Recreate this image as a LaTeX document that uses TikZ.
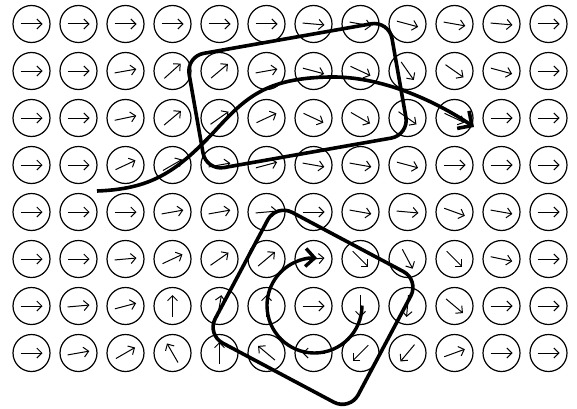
\documentclass[tikz,border=0pt]{standalone}
\usepackage{tikz}
\usetikzlibrary{arrows.meta}

\begin{document}
\begin{tikzpicture}[x=1pt, y=1pt,
    cell/.style={circle, draw, line width=1.2pt, minimum size=37pt, inner sep=0pt},
    spin/.style={line width=1pt, -{Straight Barb[length=5pt, width=10pt]}},
    frame/.style={draw, line width=3.6pt, rounded corners=18pt, inner sep=0pt},
    flow/.style={line width=3.6pt}]
  \useasboundingbox (0,0) rectangle (577,408);
  % Spin lattice, one row per line
  \foreach \r/\angles in {
      1/{0,0,0,0,0,0,-5,-10,-15,-10,-5,0},
      2/{0,0,10,42,40,10,-15,-25,-55,-35,-15,0},
      3/{0,0,12,40,35,25,-25,-30,-35,-25,0,0},
      4/{0,0,25,30,10,15,-10,-10,-15,0,0,0},
      5/{0,0,0,10,10,5,0,-10,-5,-20,-10,0},
      6/{0,0,5,25,35,40,5,-45,-62,-45,-12,0},
      7/{0,5,15,90,80,90,0,-90,-95,-40,0,0},
      8/{0,10,30,120,90,140,180,-135,-130,20,0,0}} {
    \foreach \a [count=\c] in \angles {
      \node[cell] (cell-\c-\r) at ({31.5+47*(\c-1)},{384-47*(\r-1)}) {};
      \draw[spin] (cell-\c-\r.center) ++(180+\a:11) -- ++(\a:22);
    }
  }
  % Frames
  \node[frame, minimum width=206pt, minimum height=116pt, rotate=10] (boxTop) at (297.5,312.3) {};
  \node[frame, minimum width=162pt, minimum height=148pt, rotate=-28] (boxLow) at (313,100.7) {};
  % Flow line
  \coordinate (flowstart) at (97,217);
  \coordinate (flowend) at (474,281);
  \draw[flow, -{Straight Barb[angle=90:15pt]}] (flowstart)
    .. controls (150,219) and (175,235) .. (213,275)
    .. controls (245,310) and (265,330) .. (330,331)
    .. controls (380,332) and (434,308) .. (flowend);
  % Vortex loop
  \coordinate (swirlstart) at (362,102.5);
  \draw[flow, line width=3.4pt, -{Straight Barb[length=9pt, width=18pt]}] (swirlstart)
    arc[start angle=0, end angle=-273, radius=47.5];
\end{tikzpicture}
\end{document}
